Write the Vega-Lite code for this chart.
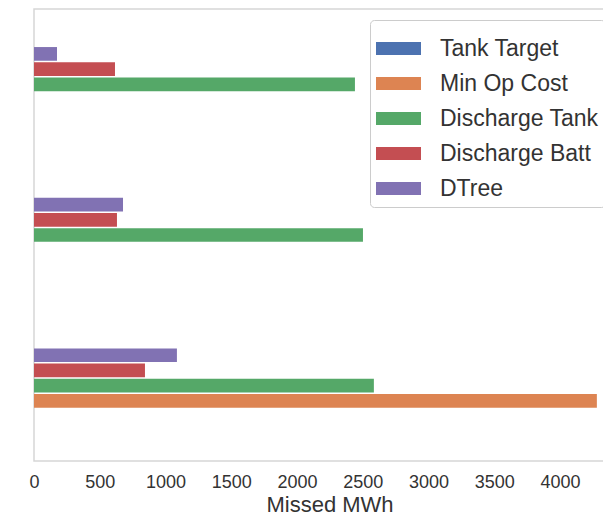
{
  "$schema": "https://vega.github.io/schema/vega-lite/v6.json",
  "width": 591,
  "height": 452,
  "autosize": {"type": "none"},
  "padding": {"left": 34, "top": 9, "right": 0, "bottom": 54},
  "background": "white",
  "config": {
    "font": "Liberation Sans",
    "view": {"stroke": "#d6d6d6", "strokeWidth": 1.5}
  },
  "data": {
    "values": [
      {"scenario": "Scenario 1", "series": "Tank Target", "value": 0},
      {"scenario": "Scenario 1", "series": "Min Op Cost", "value": 0},
      {"scenario": "Scenario 1", "series": "Discharge Tank", "value": 2441},
      {"scenario": "Scenario 1", "series": "Discharge Batt", "value": 616},
      {"scenario": "Scenario 1", "series": "DTree", "value": 175},
      {"scenario": "Scenario 2", "series": "Tank Target", "value": 0},
      {"scenario": "Scenario 2", "series": "Min Op Cost", "value": 0},
      {"scenario": "Scenario 2", "series": "Discharge Tank", "value": 2502},
      {"scenario": "Scenario 2", "series": "Discharge Batt", "value": 631},
      {"scenario": "Scenario 2", "series": "DTree", "value": 677},
      {"scenario": "Scenario 3", "series": "Tank Target", "value": 0},
      {"scenario": "Scenario 3", "series": "Min Op Cost", "value": 4281},
      {"scenario": "Scenario 3", "series": "Discharge Tank", "value": 2585},
      {"scenario": "Scenario 3", "series": "Discharge Batt", "value": 844},
      {"scenario": "Scenario 3", "series": "DTree", "value": 1087}
    ]
  },
  "mark": {"type": "bar"},
  "encoding": {
    "y": {
      "field": "scenario",
      "type": "nominal",
      "sort": ["Scenario 1", "Scenario 2", "Scenario 3"],
      "scale": {"paddingInner": 0, "paddingOuter": 0},
      "axis": {"labels": false, "ticks": false, "domain": false, "grid": false, "title": null}
    },
    "yOffset": {
      "field": "series",
      "type": "nominal",
      "scale": {
        "domain": ["pad1", "pad2", "DTree", "Discharge Batt", "Discharge Tank", "Min Op Cost", "Tank Target", "pad3", "pad4"],
        "paddingInner": 0.1,
        "paddingOuter": 0.5
      }
    },
    "x": {
      "field": "value",
      "type": "quantitative",
      "scale": {"domain": [0, 4495], "nice": false, "zero": true},
      "axis": {
        "values": [0, 500, 1000, 1500, 2000, 2500, 3000, 3500, 4000],
        "format": "d",
        "labelFlush": false,
        "grid": false,
        "ticks": false,
        "domain": false,
        "labelFontSize": 18,
        "labelColor": "#333333",
        "labelPadding": 12,
        "title": "Missed MWh",
        "titleFontSize": 22,
        "titleFontWeight": "normal",
        "titleColor": "#333333",
        "titlePadding": 3
      }
    },
    "color": {
      "field": "series",
      "type": "nominal",
      "scale": {
        "domain": ["Tank Target", "Min Op Cost", "Discharge Tank", "Discharge Batt", "DTree"],
        "range": ["#4C72B0", "#DD8452", "#55A868", "#C44E52", "#8172B3"]
      },
      "legend": {
        "orient": "none",
        "legendX": 336,
        "legendY": 11,
        "title": null,
        "labelFontSize": 23,
        "labelColor": "#333333",
        "symbolType": "M-1,-0.29H1V0.29H-1Z",
        "symbolSize": 2025,
        "symbolStrokeWidth": 0,
        "symbolOpacity": 1,
        "strokeColor": "#cccccc",
        "fillColor": "white",
        "cornerRadius": 4,
        "padding": 6,
        "rowPadding": 0,
        "labelOffset": 19,
        "labelLimit": 400
      }
    }
  }
}
